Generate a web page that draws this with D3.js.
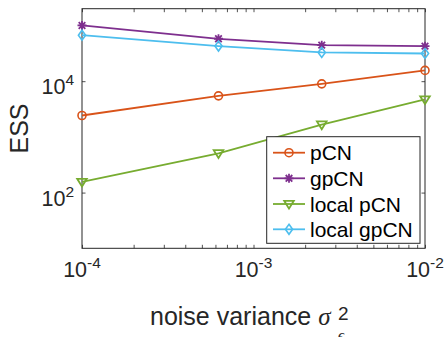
<!DOCTYPE html>
<html>
<head>
<meta charset="utf-8">
<script src="https://cdn.jsdelivr.net/npm/d3@7"></script>
<style>
  body { margin: 0; background: #fff; }
  svg { display: block; font-family: "Liberation Sans", Arial, sans-serif; }
</style>
</head>
<body>
<svg id="chart" width="448" height="337"></svg>
<script>
// data
const noiseVar = [1e-4, 6.25e-4, 2.5e-3, 1e-2];
const pCN = [2420, 5450, 8950, 15600];
const gpCN = [100000, 57700, 44300, 42500];
const localPCN = [155, 505, 1660, 4690];
const localGpCN = [67000, 42700, 32800, 31400];

const seriesNames = ['pCN', 'gpCN', 'local pCN', 'local gpCN'];
const seriesColors = ['#D95319', '#7E2F8E', '#77AC30', '#4DBEEE'];
const seriesMarkers = ['circle', 'asterisk', 'triangle', 'diamond'];
const seriesValues = [pCN, gpCN, localPCN, localGpCN];

const xTickExp = [-4, -3, -2];
const yTickExp = [2, 4];

const w = 448, h = 337;
const mLeft = 82, mRight = 425, mTop = 8.7, mBottom = 248.3;
const axisColor = '#262626';

const svg = d3.select('#chart');

const x = d3.scaleLog().domain([1e-4, 1e-2]).range([mLeft, mRight]);
const y = d3.scaleLog().domain([10, 2e5]).range([mBottom, mTop]);

// minor ticks on x (2..9 of each decade)
const xMinor = [];
[-4, -3].forEach(e => { for (let k = 2; k <= 9; k++) xMinor.push(k * Math.pow(10, e)); });

const tl = 3.5;
const g = svg.append('g');

function drawTicks(axisGen, transform) {
    const a = g.append('g').attr('transform', transform).call(axisGen);
    a.select('.domain').remove();
    a.selectAll('line').attr('stroke', axisColor).attr('stroke-width', 0.8);
    a.selectAll('text').remove();
    return a;
}

const xMajor = xTickExp.map(e => Math.pow(10, e));
const yMajor = yTickExp.map(e => Math.pow(10, e));

drawTicks(d3.axisBottom(x).tickValues(xMajor.concat(xMinor)).tickSize(-tl), `translate(0,${mBottom})`);
drawTicks(d3.axisTop(x).tickValues(xMajor.concat(xMinor)).tickSize(-tl), `translate(0,${mTop})`);
drawTicks(d3.axisLeft(y).tickValues(yMajor).tickSize(-tl), `translate(${mLeft},0)`);
drawTicks(d3.axisRight(y).tickValues(yMajor).tickSize(-tl), `translate(${mRight},0)`);

// box
g.append('rect')
    .attr('x', mLeft).attr('y', mTop)
    .attr('width', mRight - mLeft).attr('height', mBottom - mTop)
    .attr('fill', 'none').attr('stroke', axisColor).attr('stroke-width', 1);

// tick labels with superscripts
const tickFont = 21.5, expFont = 15.5;
xTickExp.forEach(e => {
    const t = svg.append('text')
        .attr('x', x(Math.pow(10, e)))
        .attr('y', 276.7)
        .attr('text-anchor', 'middle')
        .attr('fill', axisColor)
        .attr('font-size', tickFont);
    t.append('tspan').text('10');
    t.append('tspan').attr('font-size', expFont).attr('dy', -9).text(e < 0 ? '-' + (-e) : e);
});
yTickExp.forEach(e => {
    const t = svg.append('text')
        .attr('x', mLeft - 8)
        .attr('y', y(Math.pow(10, e)) + 13)
        .attr('text-anchor', 'end')
        .attr('fill', axisColor)
        .attr('font-size', tickFont);
    t.append('tspan').text('10');
    t.append('tspan').attr('font-size', expFont).attr('dy', -9).text(e);
});

// axis labels
svg.append('text')
    .attr('transform', `translate(28,${(mTop + mBottom) / 2}) rotate(-90)`)
    .attr('text-anchor', 'middle')
    .attr('fill', axisColor)
    .attr('font-size', 25)
    .text('ESS');

const xl = svg.append('text')
    .attr('x', 150).attr('y', 325)
    .attr('fill', axisColor)
    .attr('font-size', 25);
xl.append('tspan').text('noise variance ');
xl.append('tspan').attr('font-family', '"Liberation Serif", serif').attr('font-style', 'italic').text('σ');
svg.append('text').attr('x', 338).attr('y', 320).attr('fill', axisColor).attr('font-size', 19).text('2');
svg.append('text').attr('x', 338).attr('y', 340).attr('fill', axisColor).attr('font-size', 15)
    .attr('font-family', '"Liberation Serif", serif').attr('font-style', 'italic').text('ϵ');

// marker drawing
function marker(sel, type, color) {
    if (type === 'circle') {
        sel.append('circle').attr('r', 4).attr('fill', 'none').attr('stroke', color).attr('stroke-width', 1.6);
    } else if (type === 'asterisk') {
        sel.append('path').attr('d', 'M-4.5,0H4.5M0,-4.5V4.5M-3.3,-3.3L3.3,3.3M-3.3,3.3L3.3,-3.3')
            .attr('stroke', color).attr('stroke-width', 1.8);
    } else if (type === 'triangle') {
        sel.append('path').attr('d', 'M-4.8,-3.2L4.8,-3.2L0,4.6Z')
            .attr('fill', 'none').attr('stroke', color).attr('stroke-width', 1.8).attr('stroke-linejoin', 'miter');
    } else if (type === 'diamond') {
        sel.append('path').attr('d', 'M0,-5L3.6,0L0,5L-3.6,0Z')
            .attr('fill', 'none').attr('stroke', color).attr('stroke-width', 1.6);
    }
}

const line = d3.line().x((d, i) => x(noiseVar[i])).y(d => y(d));

seriesValues.forEach((vals, s) => {
    const sg = svg.append('g');
    sg.append('path').attr('d', line(vals))
        .attr('fill', 'none').attr('stroke', seriesColors[s]).attr('stroke-width', 1.8);
    vals.forEach((v, i) => {
        const m = sg.append('g').attr('transform', `translate(${x(noiseVar[i])},${y(v)})`);
        marker(m, seriesMarkers[s], seriesColors[s]);
    });
});

// legend
const lg = svg.append('g');
lg.append('rect').attr('x', 266.7).attr('y', 136.7).attr('width', 153.3).attr('height', 106.6)
    .attr('fill', '#fff').attr('stroke', axisColor).attr('stroke-width', 1);
const rowY = [152.7, 178.3, 204, 229.3];
seriesNames.forEach((name, s) => {
    const ry = rowY[s];
    lg.append('line').attr('x1', 273).attr('x2', 305).attr('y1', ry).attr('y2', ry)
        .attr('stroke', seriesColors[s]).attr('stroke-width', 1.8);
    const m = lg.append('g').attr('transform', `translate(289,${ry})`);
    marker(m, seriesMarkers[s], seriesColors[s]);
    lg.append('text').attr('x', 310).attr('y', ry + 7.5)
        .attr('fill', '#000').attr('font-size', 21).text(name);
});
</script>
</body>
</html>
